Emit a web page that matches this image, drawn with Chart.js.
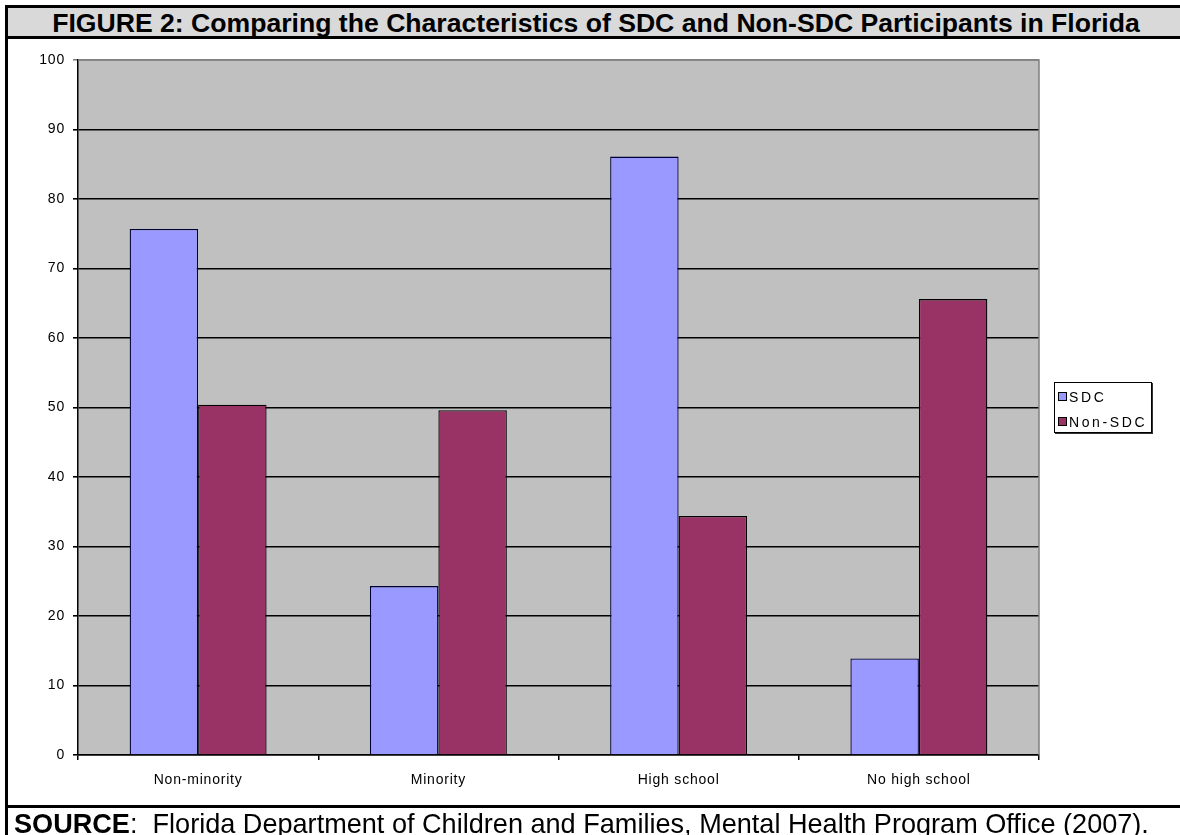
<!DOCTYPE html>
<html>
<head>
<meta charset="utf-8">
<script src="https://cdn.jsdelivr.net/npm/chart.js@4"></script>
<style>
  html, body { margin: 0; padding: 0; background: #fff; }
  body { width: 1180px; height: 835px; position: relative; overflow: hidden; font-family: "Liberation Sans", Arial, sans-serif; }
  #chartWrap { position: absolute; left: 0; top: 0; width: 1180px; height: 835px; }
  #borderLeft { position: absolute; left: 5px; top: 5px; width: 3px; height: 830px; background: #000; }
  #borderTop { position: absolute; left: 5px; top: 5px; width: 1175px; height: 3px; background: #000; }
  #titleBar { position: absolute; left: 8px; top: 8px; width: 1172px; height: 28px; background: #d9d9d9;
              border-bottom: 3px solid #000; text-align: center; font-weight: bold; font-size: 26.6px; line-height: 30px; color: #000; white-space: nowrap; }
  #titleText { position: relative; left: 2px; }
  #footLine { position: absolute; left: 8px; top: 805px; width: 1172px; height: 3px; background: #000; }
  #source { position: absolute; left: 14px; top: 810px; font-size: 27.1px; line-height: 27px; color: #000; white-space: nowrap; }
  #legend { position: absolute; left: 1054px; top: 382px; width: 96px; height: 49px; border: 1px solid #000;
            box-shadow: 1px 1px 0 #333; background: #fff; font-size: 14px; letter-spacing: 2.6px; }
  .item { position: absolute; left: 3px; height: 16px; line-height: 16px; white-space: nowrap; }
  .sw { display: inline-block; width: 7px; height: 7px; border: 1px solid #000; margin-right: 2px; vertical-align: 1px; }
</style>
</head>
<body>
<div id="chartWrap"><canvas id="c" width="1180" height="835"></canvas></div>
<div id="borderLeft"></div>
<div id="borderTop"></div>
<div id="titleBar"><span id="titleText">FIGURE 2: Comparing the Characteristics of SDC and Non-SDC Participants in Florida</span></div>
<div id="footLine"></div>
<div id="source"><b>SOURCE</b>:&nbsp; Florida Department of Children and Families, Mental Health Program Office (2007).</div>
<div id="legend"></div>
<script>
const categories = ["Non-minority", "Minority", "High school", "No high school"];
const seriesNames = ["SDC", "Non-SDC"];
const sdcValues = [75.7, 24.3, 86.1, 13.9];
const nonSdcValues = [50.4, 49.6, 34.4, 65.6];
const yTicks = [0, 10, 20, 30, 40, 50, 60, 70, 80, 90, 100];

const colors = ["#9999FF", "#993366"];

const plotBg = {
  id: 'plotBg',
  beforeDraw(chart) {
    const {ctx, chartArea: a} = chart;
    ctx.save();
    ctx.fillStyle = '#C0C0C0';
    ctx.fillRect(a.left, a.top, a.right - a.left, a.bottom - a.top);
    ctx.restore();
    ctx.letterSpacing = '0.8px';
  },
  afterDraw(chart) {
    const {ctx, chartArea: a} = chart;
    ctx.save();
    ctx.strokeStyle = '#808080';
    ctx.lineWidth = 1.5;
    ctx.beginPath();
    ctx.moveTo(a.left, a.top);
    ctx.lineTo(a.right, a.top);
    ctx.lineTo(a.right, a.bottom);
    ctx.stroke();
    ctx.restore();
  }
};

const chart = new Chart(document.getElementById('c'), {
  type: 'bar',
  data: {
    labels: categories,
    datasets: [
      { label: seriesNames[0], data: sdcValues, backgroundColor: colors[0], borderColor: '#000033', borderWidth: 1.3,
        categoryPercentage: 0.57, barPercentage: 1.0 },
      { label: seriesNames[1], data: nonSdcValues, backgroundColor: colors[1], borderColor: '#000', borderWidth: 1.3,
        categoryPercentage: 0.57, barPercentage: 1.0 }
    ]
  },
  options: {
    responsive: false,
    animation: false,
    devicePixelRatio: 1,
    layout: { padding: { left: 0, top: 60, right: 141, bottom: 40 } },
    plugins: { legend: { display: false }, title: { display: false }, tooltip: { enabled: false } },
    scales: {
      x: {
        afterFit(s) { s.height = 40; },
        border: { display: true, color: '#000', width: 1.5 },
        grid: { display: true, offset: true, drawOnChartArea: false, drawTicks: true, tickLength: 5, color: '#000', lineWidth: 1.5 },
        ticks: { color: '#000', font: { family: 'Liberation Sans', size: 14 }, padding: 12 }
      },
      y: {
        min: 0, max: 100,
        afterFit(s) { s.width = 78; },
        afterBuildTicks(s) { s.ticks = yTicks.map(v => ({ value: v })); },
        border: { display: true, color: '#000', width: 1.5 },
        grid: {
          color: (c) => c.tick && c.tick.value === 100 ? '#808080' : '#000',
          lineWidth: 1.6, drawTicks: true, tickLength: 5
        },
        ticks: { color: '#000', font: { family: 'Liberation Sans', size: 14 }, padding: 8, stepSize: 10 }
      }
    }
  },
  plugins: [plotBg]
});

// legend built from dataset definitions
const leg = document.getElementById('legend');
chart.data.datasets.forEach((ds, i) => {
  const d = document.createElement('div');
  d.className = 'item';
  d.style.top = (i === 0 ? 6 : 31) + 'px';
  d.innerHTML = '<span class="sw" style="background:' + ds.backgroundColor + '"></span>' + ds.label;
  leg.appendChild(d);
});
</script>
</body>
</html>
